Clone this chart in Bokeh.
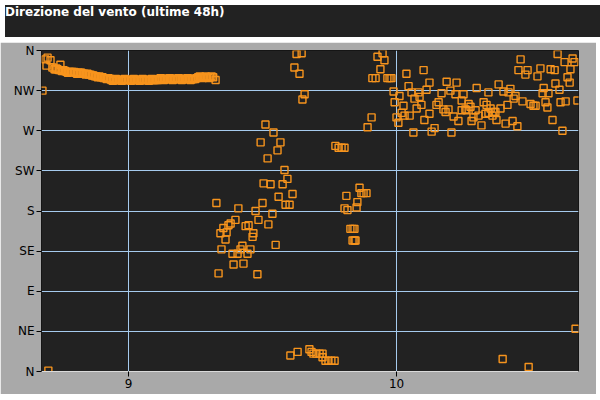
from bokeh.plotting import figure
from bokeh.models import Range1d, FixedTicker, Div, ColumnDataSource
from bokeh.layouts import column
from bokeh.embed import file_html
from bokeh.resources import INLINE

title_text = "Direzione del vento (ultime 48h)"
dir_ticks = [0, 45, 90, 135, 180, 225, 270, 315, 360]
dir_labels = ["N", "NE", "E", "SE", "S", "SW", "W", "NW", "N"]
time_ticks = [9, 10]

# early scattered readings
t_start = [8.690, 8.698, 8.709, 8.694, 8.716, 8.746, 8.728, 8.679, 8.701]
d_start = [350, 352, 349, 343, 341, 344, 339, 315, 1]

# dense steady NW period
t_band = [8.724, 8.735, 8.746, 8.757, 8.769, 8.780, 8.791, 8.802, 8.813, 8.824,
          8.836, 8.847, 8.858, 8.869, 8.880, 8.891, 8.903, 8.914, 8.925, 8.936,
          8.947, 8.958, 8.970, 8.981, 8.992, 9.003, 9.014, 9.025, 9.037, 9.048,
          9.059, 9.070, 9.081, 9.092, 9.104, 9.115, 9.126, 9.137, 9.148, 9.159,
          9.171, 9.182, 9.193, 9.204, 9.215, 9.226, 9.238, 9.249, 9.260, 9.271,
          9.282, 9.293, 9.305, 9.316, 9.325]
d_band = [339, 339, 338, 338, 336, 336, 336, 335, 335, 335,
          334, 334, 333, 332, 331, 331, 330, 329, 329, 327,
          327, 327, 327, 327, 327, 327, 327, 327, 327, 327,
          327, 327, 327, 327, 327, 328, 328, 328, 328, 328,
          328, 328, 328, 328, 328, 328, 328, 328, 330, 330,
          330, 330, 330, 330, 327]
t_band2 = [8.730, 8.741, 8.752, 8.763, 8.774, 8.785, 8.797, 8.808, 8.819, 8.830,
           8.841, 8.852, 8.864, 8.875, 8.886, 8.897, 8.908, 8.919, 8.931, 8.942,
           8.953, 8.964, 8.975, 8.986, 8.998, 9.009, 9.020, 9.031, 9.042, 9.053,
           9.065, 9.076, 9.087, 9.098, 9.109, 9.120, 9.132, 9.143, 9.154, 9.165,
           9.176, 9.187, 9.199, 9.210, 9.221, 9.232, 9.243, 9.254, 9.266, 9.277,
           9.288, 9.299, 9.310]
d_band2 = [340, 338, 337, 337, 335, 336, 336, 334, 335, 334,
           333, 333, 332, 331, 330, 330, 329, 328, 328, 326,
           328, 327, 326, 328, 327, 326, 328, 327, 326, 328,
           327, 326, 328, 327, 327, 329, 327, 328, 329, 327,
           328, 329, 327, 328, 329, 327, 328, 329, 331, 329,
           331, 329, 331]

# middle period (variable)
t_mid = [9.649, 9.627, 9.646, 9.619, 9.638, 9.657, 9.511, 9.541, 9.493, 9.567,
         9.556, 9.519, 9.582, 9.593, 9.504, 9.530, 9.575, 9.612, 9.560, 9.328,
         9.500, 9.586, 9.601, 9.410, 9.474, 9.537, 9.399, 9.485, 9.381, 9.373,
         9.437, 9.448, 9.354, 9.343, 9.366, 9.522, 9.466, 9.463, 9.362, 9.549,
         9.425, 9.418, 9.455, 9.347, 9.388, 9.407, 9.444, 9.392, 9.429, 9.336,
         9.481,
         9.907, 9.892, 9.772, 9.784, 9.795, 9.806, 9.862, 9.869, 9.877, 9.888,
         9.813, 9.854, 9.851, 9.806, 9.817, 9.828, 9.836, 9.843, 9.836, 9.843,
         9.847,
         9.604, 9.631, 9.675, 9.683, 9.690, 9.701, 9.713, 9.724, 9.724, 9.735,
         9.746, 9.757, 9.769]
d_mid = [305, 356, 357, 341, 334, 311, 277, 268, 257, 257,
         248, 239, 226, 216, 211, 210, 210, 199, 196, 189,
         189, 187, 187, 183, 180, 177, 170, 170, 166, 164,
         163, 164, 161, 155, 156, 165, 155, 151, 148, 142,
         141, 137, 137, 137, 132, 132, 132, 120, 121, 110,
         109,
         285, 274, 253, 251, 251, 251, 206, 200, 200, 200,
         197, 190, 184, 183, 181, 160, 160, 160, 147, 147,
         147,
         18, 22, 25, 22, 20, 20, 20, 20, 16, 12,
         12, 12, 12]

# late period (W-NW, variable)
t_late = [9.929, 9.948, 9.955, 9.940, 9.910, 9.922, 9.966, 9.974, 9.981, 10.037,
          10.101, 10.045, 10.123, 10.187, 10.224, 10.299, 10.381, 10.425, 10.463, 10.455,
          10.481, 10.489, 10.526, 10.537, 10.575, 10.590, 10.601, 10.627, 10.657, 10.664,
          10.649, 10.638, 10.646, 10.593, 10.549, 10.608, 9.989, 10.011, 10.056, 10.082,
          10.067, 10.086, 10.112, 10.168, 10.201, 10.220, 10.250, 10.243, 10.269, 10.276,
          10.343, 10.325, 10.336, 10.399, 10.418, 10.437, 10.444, 10.470, 10.414, 10.545,
          10.567, 10.556, 10.612, 10.631, 10.675, 10.500, 10.511, 10.519, 10.563, 9.993,
          10.026, 10.019, 10.000, 10.007, 10.049, 10.030, 10.075, 10.093, 10.123, 10.104,
          10.063, 10.131, 10.142, 10.205, 10.157, 10.149, 10.175, 10.183, 10.194, 10.213,
          10.231, 10.243, 10.257, 10.261, 10.280, 10.287, 10.295, 10.306, 10.317, 10.332,
          10.343, 10.351, 10.358, 10.362, 10.369, 10.373, 10.388, 10.407, 10.433, 10.451,
          10.582, 10.619, 10.396, 10.493, 10.668]
d_late = [353, 357, 349, 339, 329, 329, 329, 329, 329, 334,
          338, 320, 324, 325, 324, 318, 322, 317, 350, 338,
          333, 338, 331, 340, 339, 338, 356, 347, 351, 347,
          339, 330, 324, 323, 318, 316, 314, 309, 313, 313,
          306, 308, 316, 312, 315, 311, 311, 304, 300, 297,
          313, 302, 299, 314, 313, 306, 309, 303, 299, 312,
          312, 302, 302, 303, 304, 300, 298, 298, 296, 302,
          298, 290, 285, 279, 287, 287, 295, 299, 289, 282,
          268, 269, 273, 268, 302, 299, 294, 291, 294, 286,
          281, 293, 294, 293, 281, 285, 293, 287, 276, 289,
          290, 295, 287, 291, 291, 282, 295, 278, 281, 275,
          282, 270, 14, 5, 48]

times = t_start + t_band + t_band2 + t_mid + t_late
dirs = d_start + d_band + d_band2 + d_mid + d_late
src = ColumnDataSource(dict(t=times, d=dirs))

W = 596
p = figure(width=W, height=352, output_backend="svg", toolbar_location=None,
           x_range=Range1d(8.6754, 10.679), y_range=Range1d(0, 360),
           min_border_left=41, min_border_right=18, min_border_top=8, min_border_bottom=23)
p.background_fill_color = "#222222"
p.border_fill_color = "#a9a9a9"
p.outline_line_color = "#151515"

p.scatter("t", "d", source=src, marker="square", size=7, fill_color=None,
          line_color="#f7941d", line_width=1.4)

p.xaxis.ticker = FixedTicker(ticks=time_ticks)
p.yaxis.ticker = FixedTicker(ticks=dir_ticks)
p.yaxis.major_label_overrides = {t: l for t, l in zip(dir_ticks, dir_labels)}
for ax in (p.xaxis[0], p.yaxis[0]):
    ax.axis_line_color = None
    ax.major_tick_line_color = "black"
    ax.major_tick_out = 5
    ax.major_tick_in = 0
    ax.minor_tick_line_color = None
    ax.major_label_text_font = "DejaVu Sans"
    ax.major_label_text_font_size = "12px"
    ax.major_label_text_color = "black"
    ax.major_label_standoff = 2
p.xaxis.axis_line_color = "#dadada"

p.xgrid.ticker = FixedTicker(ticks=time_ticks)
p.ygrid.ticker = FixedTicker(ticks=dir_ticks)
p.grid.grid_line_color = "#a6cbee"
p.grid.grid_line_width = 1

title = Div(text=title_text, width=W, height=32,
            styles={"background-color": "#222222", "color": "white",
                    "font-family": "DejaVu Sans", "font-weight": "bold",
                    "font-size": "12px", "padding": "0px",
                    "box-sizing": "border-box", "line-height": "14px"})

layout = column(title, p, spacing=0)
open("out.html", "w").write(file_html(layout, INLINE))
